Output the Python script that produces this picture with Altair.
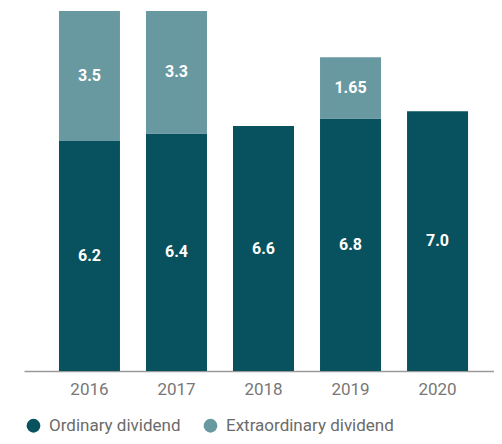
import altair as alt
import pandas as pd

years = ["2016", "2017", "2018", "2019", "2020"]
ordinary = [6.2, 6.4, 6.6, 6.8, 7.0]
extraordinary = [3.5, 3.3, 0.0, 1.65, 0.0]
series = ["Ordinary dividend", "Extraordinary dividend"]
colors = ["#08515e", "#6898a0"]


def fmt(v):
    return f"{v:.1f}" if round(v, 1) == v else f"{v:.2f}"


rows = []
for y, o, e in zip(years, ordinary, extraordinary):
    rows.append({"year": y, "type": series[0], "order": 0, "value": o, "label": fmt(o)})
    if e > 0:
        rows.append({"year": y, "type": series[1], "order": 1, "value": e, "label": fmt(e)})
df = pd.DataFrame(rows)

font = "Roboto"

base = alt.Chart(df).transform_stack(
    stack="value", groupby=["year"], as_=["y0", "y1"], sort=[alt.SortField("order")]
).transform_calculate(mid="(datum.y0 + datum.y1) / 2")

x = alt.X(
    "year:N",
    title=None,
    scale=alt.Scale(paddingInner=0.299, paddingOuter=0.35, align=0.574),
    axis=alt.Axis(
        labelAngle=0, ticks=False, labelPadding=10, labelFontSize=17,
        labelColor="#777777", labelFont=font, domainColor="#9a9a9a", domainWidth=1.5,
    ),
)
yscale = alt.Scale(domain=[0, 9.78], nice=False)

bars = base.mark_bar().encode(
    x=x,
    y=alt.Y("y0:Q", scale=yscale, axis=None),
    y2="y1:Q",
    color=alt.Color(
        "type:N",
        scale=alt.Scale(domain=series, range=colors),
        legend=alt.Legend(
            title=None, orient="none", legendX=1, legendY=409, direction="horizontal",
            symbolType="circle", symbolSize=190, symbolStrokeWidth=0,
            labelFontSize=17, labelColor="#6b6b6b", labelFont=font, columnPadding=21,
            labelOffset=7, labelLimit=400,
        ),
    ),
)

labels = base.mark_text(color="white", fontWeight="bold", fontSize=16, font=font).encode(
    x=x,
    y=alt.Y("mid:Q", scale=yscale, axis=None),
    text="label:N",
)

chart = (
    alt.layer(bars, labels)
    .properties(
        width=470, height=363,
        autosize=alt.AutoSizeParams(type="none"),
        padding={"left": 16, "top": 0, "right": 0, "bottom": 65},
    )
    .configure_view(stroke=None)
)

chart.save("out.html", embed_options={"renderer": "svg", "actions": False})
